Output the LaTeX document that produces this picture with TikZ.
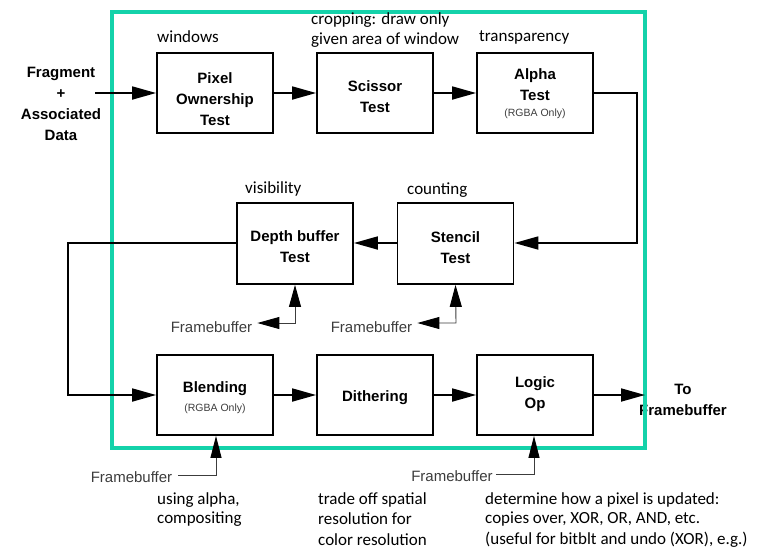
\documentclass[tikz,border=0pt]{standalone}
\usepackage{fontspec}
\setmainfont{Liberation Sans}
\newfontfamily\carl{Carlito}
\usetikzlibrary{arrows.meta}
\definecolor{teal1}{RGB}{20,210,170}
\definecolor{fbgray}{RGB}{60,60,60}
\tikzset{
  stage/.style={draw=black, line width=1.8pt, minimum width=116pt, minimum height=80pt, inner sep=0pt},
  btxt/.style={font=\fontsize{15}{21}\selectfont\bfseries, align=center, inner sep=0pt},
  small/.style={font=\fontsize{10.5}{12}\selectfont, text=fbgray, inner sep=0pt},
  fb/.style={font=\fontsize{15}{18}\selectfont, text=fbgray, inner sep=0pt},
  note/.style={font=\carl\fontsize{17}{20}\selectfont, anchor=west, inner sep=0pt},
  flow/.style={line width=1.8pt, -{Triangle[length=24pt,width=13pt]}},
  fbline/.style={line width=0.9pt, draw=fbgray},
  fbtip/.style={{Triangle[length=22pt,width=12pt,color=black]}-{Triangle[length=22pt,width=12pt,color=black]}},
  fbup/.style={-{Triangle[length=22pt,width=11pt,color=black]}},
}
\begin{document}
\begin{tikzpicture}[x=1pt,y=-1pt]
\useasboundingbox (0,0) rectangle (768,550);
% boxes
\node[stage] (pix) at (215,93) {};
\node[stage] (sci) at (375,93) {};
\node[stage] (alp) at (535,93) {};
\node[stage, minimum height=81pt] (dep) at (295,243.5) {};
\node[stage, minimum height=81pt] (ste) at (455.5,243.5) {};
\node[stage] (ble) at (215,395) {};
\node[stage] (dit) at (375,395) {};
\node[stage] (log) at (535,395) {};
% box texts
\node[btxt] (tpix) at (215,99) {Pixel\\Ownership\\Test};
\node[btxt] (tsci) at (375,97) {Scissor\\Test};
\node[btxt] (talp) at (535,85) {Alpha\\Test};
\node[small] (salp) at (535,114) {(RGBA Only)};
\node[btxt] (tdep) at (295,246.5) {Depth buffer\\Test};
\node[btxt] (tste) at (455.5,248) {Stencil\\Test};
\node[btxt] (tble) at (215,389) {Blending};
\node[small] (sble) at (215,409) {(RGBA Only)};
\node[btxt] (tdit) at (375,398) {Dithering};
\node[btxt] (tlog) at (535,394.5) {Logic\\Op};
% input / output
\node[btxt] (frag) at (61,104) {Fragment\\+\\Associated\\Data};
\node[btxt, align=center] (out) at (683,400) {To\\Framebuffer};
\coordinate (in) at (95,93);
\coordinate (outc) at (645,395);
% frame
\draw[teal1, line width=4.5pt] (112,12) rectangle (645,448);
% main flow
\draw[flow] (in) -- (pix.west);
\draw[flow] (pix.east) -- (sci.west);
\draw[flow] (sci.east) -- (alp.west);
\coordinate (r1) at (637,93);
\coordinate (r2) at (637,243);
\draw[flow] (alp.east) -- (r1) -- (r2) -- (ste.east |- r2);
\draw[flow] (ste.west |- r2) -- (dep.east |- r2);
\coordinate (l1) at (68,243);
\coordinate (l2) at (68,395);
\draw[flow] (dep.west |- l1) -- (l1) -- (l2) -- (ble.west);
\draw[flow] (ble.east) -- (dit.west);
\draw[flow] (dit.east) -- (log.west);
\draw[flow] (log.east) -- (outc);
% framebuffer feedback
\node[fb] (fb1) at (211.5,327) {Framebuffer};
\node[fb] (fb2) at (371.5,327) {Framebuffer};
\node[fb] (fb3) at (131.5,477) {Framebuffer};
\node[fb] (fb4) at (452,476) {Framebuffer};
\coordinate (k1) at (295,323);
\coordinate (k2) at (456,323);
\coordinate (k3) at (216,475);
\coordinate (k4) at (534,474);
\draw[fbline, fbtip] ([xshift=5pt]fb1.east |- k1) -- (k1) -- (dep.south);
\draw[fbline, fbtip] ([xshift=5pt]fb2.east |- k2) -- (k2) -- (ste.south);
\draw[fbline, fbup] ([xshift=6pt]fb3.east |- k3) -- (k3) -- (ble.south -| k3);
\draw[fbline, fbup] ([xshift=3pt]fb4.east |- k4) -- (k4) -- (log.south -| k4);
% notes
\node[note] (n1) at (157,37) {windows};
\node[note] (n2a) at (311,20) {cropping: draw only};
\node[note] (n2b) at (311,40) {given area of window};
\node[note] (n3) at (479,37) {transparency};
\node[note] (n4) at (245,189) {visibility};
\node[note] (n5) at (407,190) {counting};
\node[note] (n6a) at (157,500) {using alpha,};
\node[note] (n6b) at (157,519) {compositing};
\node[note] (n7a) at (318,500) {trade off spatial};
\node[note] (n7b) at (318,519) {resolution for};
\node[note] (n7c) at (318,540) {color resolution};
\node[note] (n8a) at (485,500) {determine how a pixel is updated:};
\node[note] (n8b) at (485,519) {copies over, XOR, OR, AND, etc.};
\node[note] (n8c) at (485,540) {(useful for bitblt and undo (XOR), e.g.)};
\end{tikzpicture}
\end{document}
